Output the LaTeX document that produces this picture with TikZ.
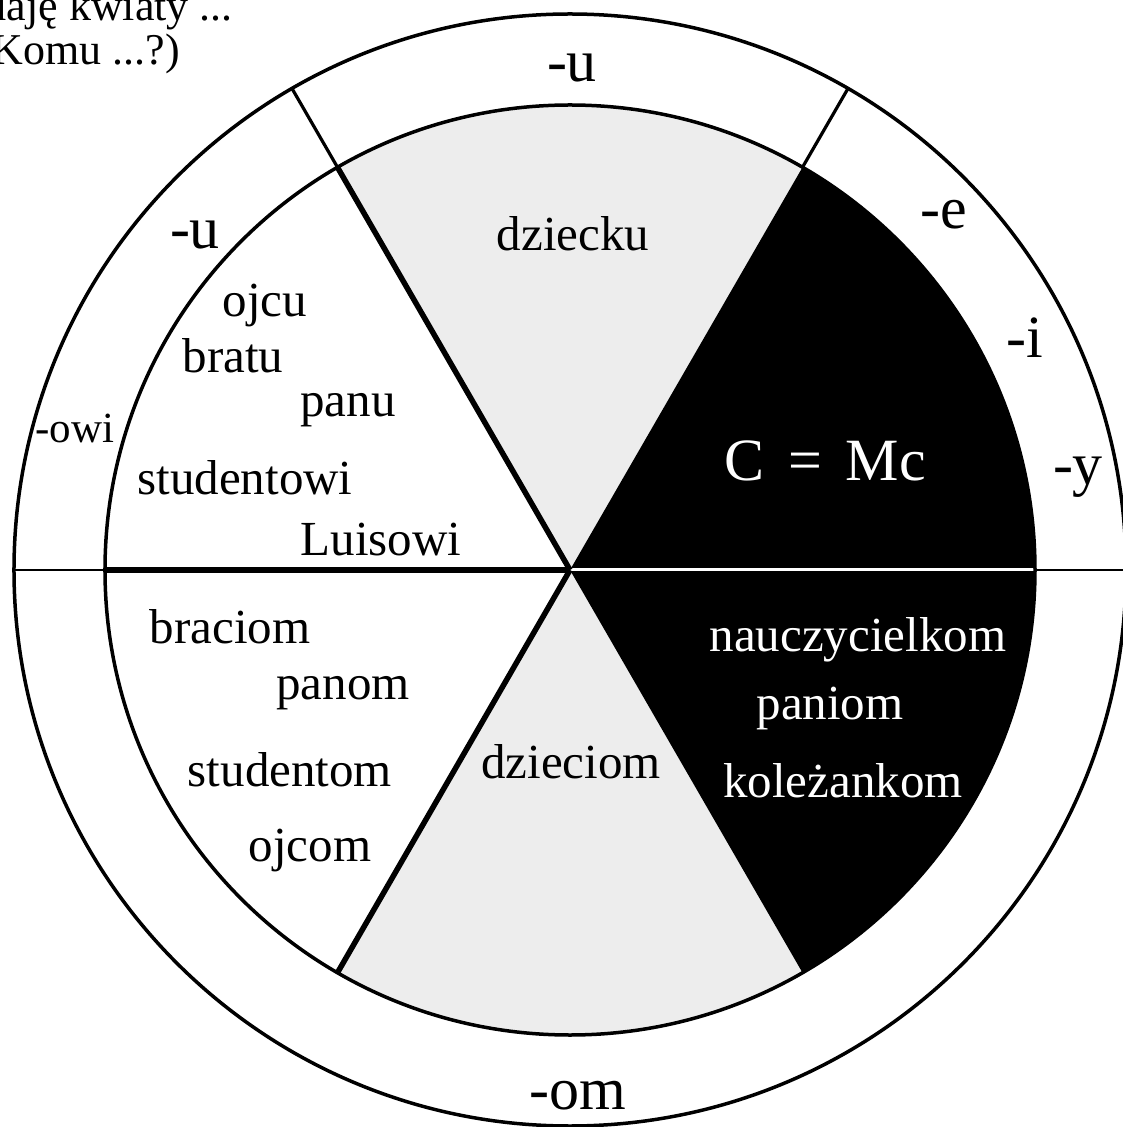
\documentclass[tikz,border=0pt]{standalone}
\usepackage{fontspec}
\setmainfont{Liberation Serif}
\definecolor{lightgrey}{HTML}{EDEDED}
\begin{document}
\begin{tikzpicture}[x=1pt,y=1pt,
  lbl/.style={font=\fontsize{49}{59}\selectfont, inner sep=0pt},
  lblw/.style={lbl, text=white},
  ringlbl/.style={font=\fontsize{60}{70}\selectfont, inner sep=0pt},
  smallringlbl/.style={font=\fontsize{43}{50}\selectfont, inner sep=0pt},
  toplbl/.style={font=\fontsize{44}{52}\selectfont, inner sep=0pt},
  circ/.style={line width=3.5pt},
  ringline/.style={line width=3.2pt},
  hringline/.style={line width=2.8pt},
  thickline/.style={line width=5.5pt}]
\useasboundingbox (-570,-557) rectangle (553,570);
\fill[white] (-570,-557) rectangle (553,570);
% centre and radii
\coordinate (O) at (0,0);
\def\ri{465}
\def\ro{556}
% sectors
\fill[lightgrey] (O) -- (60:\ri) arc[start angle=60, end angle=120, radius=\ri] -- cycle;
\fill[lightgrey] (O) -- (240:\ri) arc[start angle=240, end angle=300, radius=\ri] -- cycle;
\fill[black] (O) -- (0:\ri) arc[start angle=0, end angle=60, radius=\ri] -- cycle;
\fill[black] (O) -- (300:\ri) arc[start angle=300, end angle=360, radius=\ri] -- cycle;
% white divider between the black sectors
\draw[white, line width=3pt] (O) -- (0:\ri);
% thick dividers
\draw[thickline] (O) -- (120:\ri);
\draw[thickline] (O) -- (180:\ri);
\draw[thickline] (O) -- (240:\ri);
% circles
\draw[circ] (O) circle[radius=\ri];
\draw[circ] (O) circle[radius=\ro];
% ring dividers
\coordinate (a0) at (0:\ri);   \coordinate (b0) at (0:\ro);
\coordinate (a60) at (60:\ri); \coordinate (b60) at (60:\ro);
\coordinate (a120) at (120:\ri); \coordinate (b120) at (120:\ro);
\coordinate (a180) at (180:\ri); \coordinate (b180) at (180:\ro);
\draw[hringline] (a0) -- (b0);
\draw[ringline] (a60) -- (b60);
\draw[ringline] (a120) -- (b120);
\draw[hringline] (a180) -- (b180);
% ring labels
\node[ringlbl] (rtop) at (2,502) {-u};
\node[ringlbl] (rleft) at (-375,335) {-u};
\node[smallringlbl] (rowi) at (-495,142) {-owi};
\node[ringlbl] (re) at (374,355) {-e};
\node[ringlbl] (ri) at (455,232) {-i};
\node[ringlbl] (ry) at (508,93) {-y};
\node[ringlbl] (rom) at (8,-526) {-om};
% inner labels, upper half
\node[lbl] (dziecku) at (3,336) {dziecku};
\node[lbl] (ojcu) at (-305,265) {ojcu};
\node[lbl] (bratu) at (-337,214) {bratu};
\node[lbl] (panu) at (-222,160) {panu};
\node[lbl] (studentowi) at (-325,92) {studentowi};
\node[lbl] (Luisowi) at (-189,30) {Luisowi};
\node[ringlbl, text=white] (CMc) at (255,109) {C\hspace{0.4em}=\hspace{0.4em}Mc};
% inner labels, lower half
\node[lbl] (braciom) at (-340,-57) {braciom};
\node[lbl] (panom) at (-227,-123) {panom};
\node[lbl] (studentom) at (-280,-200) {studentom};
\node[lbl] (ojcom) at (-260,-280) {ojcom};
\node[lbl] (dzieciom) at (1,-192) {dzieciom};
\node[lblw] (nauczycielkom) at (288,-70) {nauczycielkom};
\node[lblw] (paniom) at (260,-138) {paniom};
\node[lblw] (kolezankom) at (273,-211) {koleżankom};
% heading, cut at the edges as in the reference
\node[toplbl, anchor=base east] (head1) at (-337,549) {daję kwiaty ...};
\node[toplbl, anchor=base east] (head2) at (-390,505) {(Komu ...?)};
\end{tikzpicture}
\end{document}
